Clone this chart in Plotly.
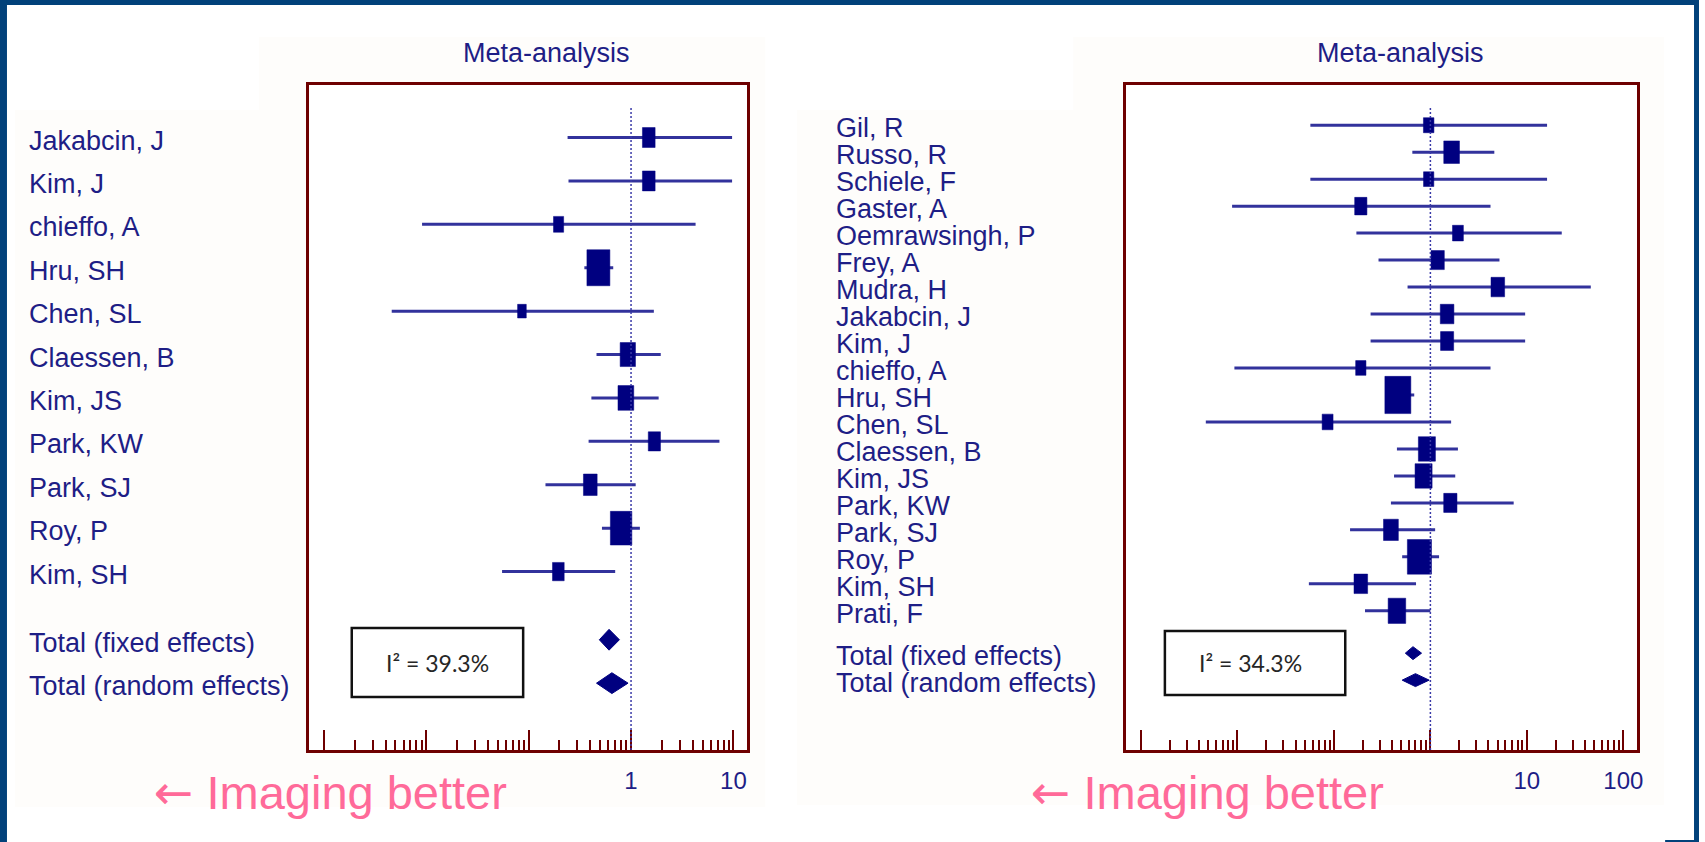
import math
import plotly.graph_objects as go

# ---------------- data ----------------
# Left panel
studies_L = ["Jakabcin, J", "Kim, J", "chieffo, A", "Hru, SH", "Chen, SL", "Claessen, B",
             "Kim, JS", "Park, KW", "Park, SJ", "Roy, P", "Kim, SH"]
est_L = [1.49, 1.49, 0.196, 0.48, 0.086, 0.93, 0.89, 1.69, 0.40, 0.80, 0.195]
lo_L = [0.24, 0.245, 0.0091, 0.35, 0.0046, 0.46, 0.41, 0.385, 0.146, 0.52, 0.055]
hi_L = [9.7, 9.7, 4.27, 0.67, 1.67, 1.95, 1.86, 7.3, 1.11, 1.22, 0.70]
weight_L = [6.6, 6.6, 4.2, 21.6, 3.1, 9.6, 10.2, 6.1, 7.7, 18.9, 5.6]
total_names_L = ["Total (fixed effects)", "Total (random effects)"]
total_est_L = [0.61, 0.65]
total_lo_L = [0.49, 0.46]
total_hi_L = [0.77, 0.935]
i2_L = "I² = 39.3%"

# Right panel
studies_R = ["Gil, R", "Russo, R", "Schiele, F", "Gaster, A", "Oemrawsingh, P", "Frey, A",
             "Mudra, H", "Jakabcin, J", "Kim, J", "chieffo, A", "Hru, SH", "Chen, SL",
             "Claessen, B", "Kim, JS", "Park, KW", "Park, SJ", "Roy, P", "Kim, SH", "Prati, F"]
est_R = [0.96, 1.66, 0.96, 0.19, 1.93, 1.19, 5.0, 1.49, 1.49, 0.19, 0.46, 0.086,
         0.92, 0.85, 1.61, 0.39, 0.77, 0.19, 0.45]
lo_R = [0.057, 0.65, 0.057, 0.0088, 0.171, 0.29, 0.58, 0.24, 0.24, 0.0093, 0.35, 0.0047,
        0.45, 0.42, 0.39, 0.147, 0.51, 0.055, 0.21]
hi_R = [16.2, 4.6, 16.2, 4.2, 23.0, 5.2, 46.0, 9.6, 9.6, 4.2, 0.68, 1.64,
        1.93, 1.81, 7.3, 1.12, 1.23, 0.71, 1.0]
weight_R = [2.5, 5.6, 2.4, 3.4, 2.7, 4.0, 4.2, 4.2, 3.9, 2.4, 15.3, 2.7,
            6.6, 6.6, 4.0, 5.0, 13.2, 4.2, 7.0]
total_names_R = ["Total (fixed effects)", "Total (random effects)"]
total_est_R = [0.66, 0.70]
total_lo_R = [0.55, 0.51]
total_hi_R = [0.81, 0.97]
i2_R = "I² = 34.3%"

title_text = "Meta-analysis"
footer_arrow = "←"
footer_text = "Imaging better"
major_vals_L = [0.001, 0.01, 0.1, 1, 10]
major_text_L = ["", "", "", "1", "10"]
major_vals_R = [0.001, 0.01, 0.1, 1, 10, 100]
major_text_R = ["", "", "", "", "10", "100"]

# ---------------- styling ----------------
W, H = 1705, 842
NAVY = "#000080"
CI_COL = "#32329c"
TXT = "#1e1e86"
BOX = "#6e0000"
PINK = "#ff6a99"
FRAME = "#01417a"
OFFWHITE = "#fefdfb"
FONT = "Liberation Sans, Arial, sans-serif"
PLOT_TOP, PLOT_BOT = 85, 750


def px(x):
    return x / W


def py(y):
    return 1 - y / H


fig = go.Figure()

panels = [
    dict(studies=studies_L, est=est_L, lo=lo_L, hi=hi_L, w=weight_L,
         tn=total_names_L, te=total_est_L, tl=total_lo_L, th=total_hi_L, i2=i2_L,
         xa="x", ya="y", xname="xaxis", yname="yaxis",
         xdom=(310, 750), xrange=[-3.146, 1.136], yrange=[14.11, -1.21],
         majv=major_vals_L, majt=major_text_L, minor_dec=(-3, 1),
         area=38.4, aspect=0.64, label_x=27, title_x=548,
         i2box=(353, 628, 525, 697), foot_x=332, total_off=1.57),
    dict(studies=studies_R, est=est_R, lo=lo_R, hi=hi_R, w=weight_R,
         tn=total_names_R, te=total_est_R, tl=total_lo_R, th=total_hi_R, i2=i2_R,
         xa="x2", ya="y2", xname="xaxis2", yname="yaxis2",
         xdom=(1130, 1643), xrange=[-3.155, 2.144], yrange=[23.16, -1.49],
         majv=major_vals_R, majt=major_text_R, minor_dec=(-3, 2),
         area=63.4, aspect=0.70, label_x=837, title_x=1405,
         i2box=(1169, 631, 1350, 695), foot_x=1212, total_off=1.57),
]

shapes = []
annotations = []

# very faint off-white pasted-image backgrounds
for (x0, y0, x1, y1) in [(260, 37, 768, 807), (15, 110, 260, 807),
                         (1077, 37, 1670, 805), (800, 110, 1077, 805)]:
    shapes.append(dict(type="rect", xref="paper", yref="paper", x0=px(x0), x1=px(x1),
                       y0=py(y1), y1=py(y0), fillcolor=OFFWHITE, line=dict(width=0),
                       layer="below"))

for p in panels:
    n = len(p["studies"])
    ys = list(range(n))
    ty = [n - 1 + p["total_off"] + k for k in range(len(p["te"]))]

    # scale factors of this panel's axes (pixels per decade / per row)
    ppd = (p["xdom"][1] - p["xdom"][0]) / (p["xrange"][1] - p["xrange"][0])
    ppr = (PLOT_BOT - PLOT_TOP) / (p["yrange"][0] - p["yrange"][1])

    shapes.append(dict(type="rect", xref="paper", yref="paper",
                       x0=px(p["xdom"][0]), x1=px(p["xdom"][1]),
                       y0=py(PLOT_BOT), y1=py(PLOT_TOP), fillcolor="white",
                       line=dict(width=0), layer="below"))

    # confidence interval lines
    cx, cy = [], []
    for lo, hi, y in zip(p["lo"], p["hi"], ys):
        cx += [lo, hi, None]
        cy += [y, y, None]
    fig.add_trace(go.Scatter(x=cx, y=cy, mode="lines", xaxis=p["xa"], yaxis=p["ya"],
                             line=dict(color=CI_COL, width=3), hoverinfo="skip",
                             showlegend=False))

    # weighted rectangles
    rx, ry = [], []
    for e, wt, y in zip(p["est"], p["w"], ys):
        h = math.sqrt(wt * p["area"] / p["aspect"])
        w = p["aspect"] * h
        f = 10 ** ((w / 2) / ppd)
        dy = (h / 2) / ppr
        rx += [e / f, e * f, e * f, e / f, e / f, None]
        ry += [y - dy, y - dy, y + dy, y + dy, y - dy, None]
    fig.add_trace(go.Scatter(x=rx, y=ry, mode="lines", fill="toself", fillcolor=NAVY,
                             line=dict(color=NAVY, width=0.5), xaxis=p["xa"],
                             yaxis=p["ya"], showlegend=False, hoverinfo="skip"))

    # pooled diamonds
    for e, lo, hi, y in zip(p["te"], p["tl"], p["th"], ty):
        fig.add_trace(go.Scatter(x=[lo, e, hi, e, lo], y=[y, y - 0.24, y, y + 0.24, y],
                                 mode="lines", fill="toself", fillcolor=NAVY,
                                 line=dict(color=NAVY, width=1), xaxis=p["xa"],
                                 yaxis=p["ya"], showlegend=False, hoverinfo="skip"))

    # null-effect dotted line
    shapes.append(dict(type="line", xref=p["xa"], yref=p["ya"] + " domain",
                       x0=1, x1=1, y0=0, y1=0.967,
                       line=dict(color="#3a3aa8", width=1.5, dash="2px,2px")))

    # study labels
    for name, y in zip(p["studies"] + p["tn"], ys + ty):
        annotations.append(dict(text=name, xref="paper", yref=p["ya"], x=px(p["label_x"]),
                                y=y, xanchor="left", yanchor="middle", yshift=-3,
                                showarrow=False, font=dict(family=FONT, size=27, color=TXT)))

    # title
    annotations.append(dict(text=title_text, xref="paper", yref="paper", x=px(p["title_x"]),
                            y=py(53), xanchor="center", yanchor="middle", showarrow=False,
                            font=dict(family=FONT, size=27, color=TXT)))

    # I² box
    bx0, by0, bx1, by1 = p["i2box"]
    shapes.append(dict(type="rect", xref="paper", yref="paper", x0=px(bx0), x1=px(bx1),
                       y0=py(by1), y1=py(by0), fillcolor="white",
                       line=dict(color="#111111", width=2.5)))
    annotations.append(dict(text=p["i2"], xref="paper", yref="paper",
                            x=px((bx0 + bx1) / 2 - (5 if p["xa"] == "x2" else 0)),
                            y=py((by0 + by1) / 2), xanchor="center", yanchor="middle",
                            showarrow=False, font=dict(family="Lato, sans-serif", size=23,
                                                       color="#262626")))

    # footer
    annotations.append(dict(
        text=('<span style="font-family:DejaVu Sans">' + footer_arrow + '</span> '
              + footer_text),
        xref="paper", yref="paper", x=px(p["foot_x"]), y=py(792), xanchor="center",
        yanchor="middle", showarrow=False, font=dict(family=FONT, size=47, color=PINK)))

    minor_vals = [m * 10 ** e for e in range(p["minor_dec"][0], p["minor_dec"][1])
                  for m in range(2, 10)]
    fig.update_layout(**{
        p["xname"]: dict(type="log", range=p["xrange"],
                         domain=[px(p["xdom"][0]), px(p["xdom"][1])],
                         anchor=p["ya"], showline=True, mirror=True, linecolor=BOX,
                         linewidth=3, ticks="inside", ticklen=20, tickwidth=2,
                         tickcolor=BOX, tickmode="array", tickvals=p["majv"],
                         ticktext=p["majt"], showgrid=False, zeroline=False,
                         tickfont=dict(family=FONT, size=24, color=TXT),
                         ticklabelstandoff=7,
                         minor=dict(tickmode="array", tickvals=minor_vals, ticks="inside",
                                    ticklen=10, tickwidth=1.5, tickcolor=BOX,
                                    showgrid=False)),
        p["yname"]: dict(range=p["yrange"], domain=[py(PLOT_BOT), py(PLOT_TOP)],
                         anchor=p["xa"], showline=True, mirror=True, linecolor=BOX,
                         linewidth=3, showticklabels=False, ticks="", showgrid=False,
                         zeroline=False),
    })

# slide frame
for (x0, y0, x1, y1) in [(0, 0, 1705, 5), (0, 0, 7, 842), (1700, 0, 1705, 842),
                         (1671, 840, 1705, 842)]:
    shapes.append(dict(type="rect", xref="paper", yref="paper", x0=px(x0), x1=px(x1),
                       y0=py(y1), y1=py(y0), fillcolor=FRAME, line=dict(width=0)))

fig.update_layout(width=W, height=H, margin=dict(l=0, r=0, t=0, b=0),
                  paper_bgcolor="white", plot_bgcolor="white",
                  shapes=shapes, annotations=annotations, showlegend=False)

fig.write_html("out.html", config={"displayModeBar": False})
